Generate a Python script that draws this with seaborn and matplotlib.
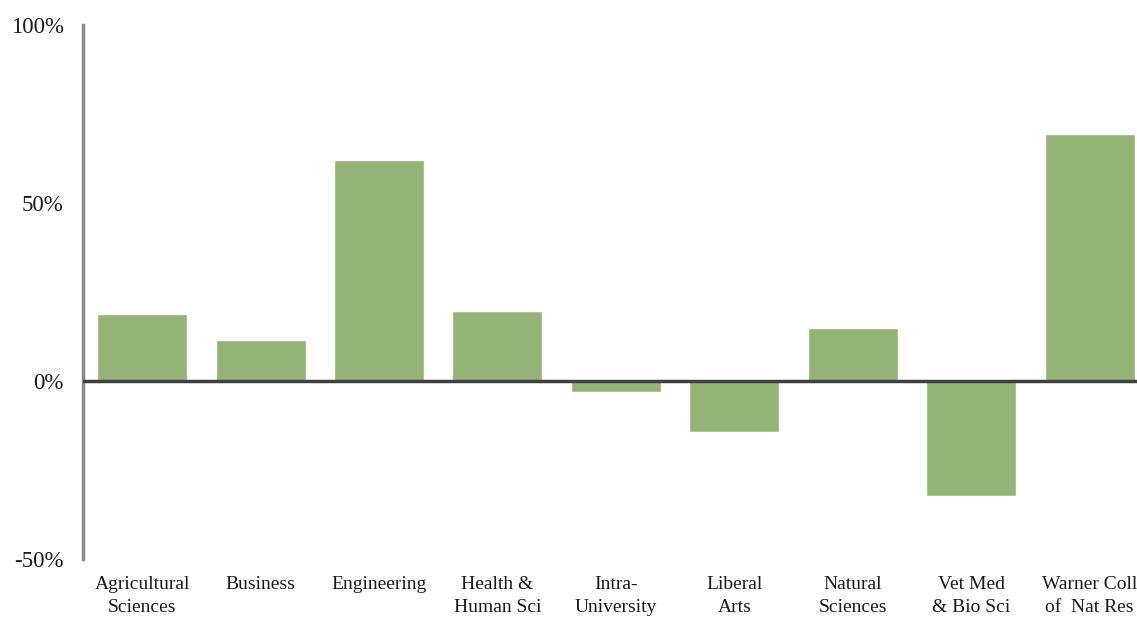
import matplotlib
matplotlib.use("Agg")
import matplotlib.pyplot as plt
import seaborn as sns
import pandas as pd
from matplotlib.ticker import PercentFormatter

# -----------------------------
# DATA
# -----------------------------
colleges = [
    "Agricultural\nSciences", "Business", "Engineering", "Health &\nHuman Sci",
    "Intra-\nUniversity", "Liberal\nArts", "Natural\nSciences", "Vet Med\n& Bio Sci",
    "Warner Coll\nof  Nat Res",
]
change_pct = [18.8, 11.5, 62.0, 19.7, -3.1, -14.3, 14.9, -32.3, 69.3]

df = pd.DataFrame({"college": colleges, "change": change_pct})

# -----------------------------
# PLOT
# -----------------------------
sns.set_style("white")
plt.rcParams["font.family"] = ["Liberation Serif", "DejaVu Serif"]
plt.rcParams["axes.unicode_minus"] = False

fig = plt.figure(figsize=(11.37, 6.19), dpi=100)
ax = fig.add_axes([83 / 1137, 60 / 619, 1 - 83 / 1137, 534 / 619])

sns.barplot(data=df, x="college", y="change", color="#95B377", saturation=1,
            width=0.76, ax=ax)

ax.set_xlim(-0.5, 8.40)
ax.set_ylim(-50, 100)
ax.set_yticks([-50, 0, 50, 100])
ax.yaxis.set_major_formatter(PercentFormatter(decimals=0))
ax.axhline(0, color="#404040", lw=2.5, zorder=5)

for side in ["top", "right", "bottom"]:
    ax.spines[side].set_visible(False)
ax.spines["left"].set_color("#8c8c8c")
ax.spines["left"].set_linewidth(2.5)

ax.set_xlabel("")
ax.set_ylabel("")
ax.tick_params(axis="y", length=0, pad=14, labelsize=16.5, labelcolor="#1a1a1a")
ax.tick_params(axis="x", length=0, pad=12, labelsize=14, labelcolor="#1a1a1a")
for lbl in ax.get_xticklabels():
    lbl.set_linespacing(1.45)

fig.savefig("out.png", dpi=100)
